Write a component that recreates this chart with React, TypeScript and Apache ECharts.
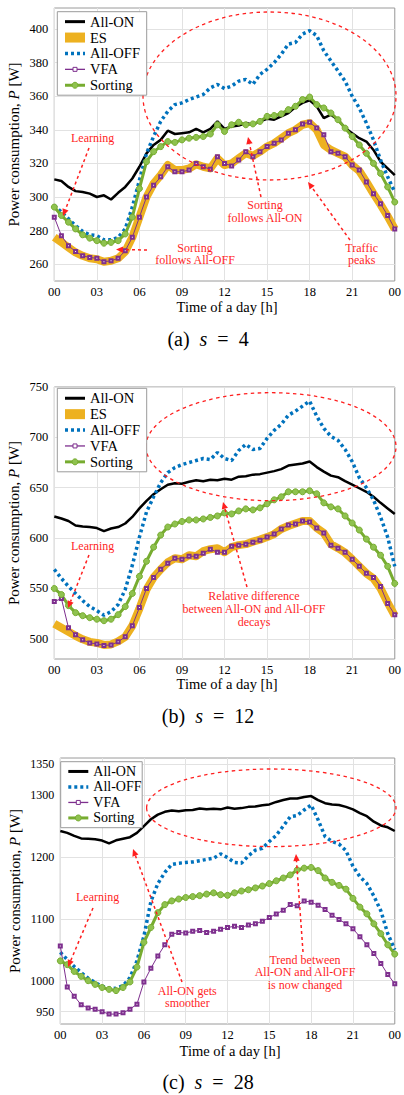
import React, { useEffect, useRef } from 'react';
import * as echarts from 'echarts';

// ---------- data ----------
const HOURS = [0, 0.5, 1, 1.5, 2, 2.5, 3, 3.5, 4, 4.5, 5, 5.5, 6, 6.5, 7, 7.5, 8, 8.5, 9, 9.5, 10, 10.5, 11, 11.5, 12, 12.5, 13, 13.5, 14, 14.5, 15, 15.5, 16, 16.5, 17, 17.5, 18, 18.5, 19, 19.5, 20, 20.5, 21, 21.5, 22, 22.5, 23, 23.5, 24];
const X_TICK_LABELS = ['00', '03', '06', '09', '12', '15', '18', '21', '00'];
const SERIES_NAMES = ['All-ON', 'ES', 'All-OFF', 'VFA', 'Sorting'];

// (a) s = 4
const ALL_ON_A = [310.5, 309.5, 306, 303.5, 303, 302, 300, 301,
  298.5, 302.5, 306, 311, 318, 326, 331, 334,
  339.5, 337.5, 338, 338.5, 340.5, 338.5, 340.5, 345,
  340.5, 342, 342.5, 344, 343, 345, 346.5, 346,
  348, 350, 353.5, 356, 357.5, 354, 347, 349,
  346, 341, 338, 335, 333, 328, 321, 317,
  313];
const ES_A = [276, 273, 270, 267, 265, 263.5, 263, 261.5,
  262, 263.5, 267.5, 276, 288, 300, 308, 313,
  319, 316, 316, 317, 319.5, 318, 317, 323,
  319, 320, 323, 326, 324.5, 327, 330, 332,
  335, 338, 340, 343, 344, 340, 331, 328,
  326, 324, 319, 315.5, 309, 302, 295.5, 288.5,
  281];
const ALL_OFF_A = [295, 291, 287, 283, 279.5, 277.5, 277, 274.5,
  274.5, 276, 281, 294, 310, 326, 336, 345,
  351, 355, 356, 358, 359.5, 361, 365, 367,
  364.5, 366, 369, 370, 367, 373, 376, 380,
  385, 391, 392, 397, 399, 396, 387, 381,
  375, 369, 360, 353, 344, 334, 322, 312,
  303];
const VFA_A = [288, 277, 271, 267.5, 265, 264, 263.5, 261.5,
  262, 263.5, 268, 276, 288, 300, 307, 312,
  318, 315, 315, 316, 320, 318, 316.5, 324,
  320, 318.5, 322, 327, 324, 327, 330, 332,
  334, 338, 340, 343.5, 344.5, 341, 337, 327,
  326, 324, 319, 316, 309, 302, 296, 289,
  281];
const SORT_A = [294, 289, 285, 281, 277.5, 275.5, 274, 272.5,
  273, 274, 278, 288, 305, 321, 327, 330,
  333, 332.5, 334, 335, 335.5, 336, 337.5, 343,
  339, 343, 344.5, 343, 343.5, 345, 348, 348.5,
  349.5, 352, 354, 358, 359.5, 355, 353, 350,
  346, 341, 336, 331, 326, 320, 314, 306,
  297];

// (b) s = 12
const ALL_ON_B = [621.5, 619.5, 617, 612.5, 611.5, 611, 610, 607,
  609.5, 611, 614.5, 621, 629.5, 637, 643.5, 648.5,
  653, 654.5, 654, 656, 657.5, 656.5, 658, 657.5,
  659, 658, 661, 661.5, 663, 663.5, 665, 666.5,
  668.5, 672, 673, 674, 676, 670.5, 666, 662,
  660.5, 656.5, 653, 649.5, 646, 641, 635, 629.5,
  624];
const ES_B = [515, 511, 507, 503, 499.5, 497, 496, 494,
  494.5, 497.5, 502, 513, 530, 549, 561, 569,
  576, 580, 579, 583, 582, 587, 589, 590,
  586, 591, 593, 594, 596.5, 598.5, 601, 604,
  609, 612, 614.5, 617, 617, 610, 605, 594,
  590, 585.5, 579, 572, 565, 560, 550, 536,
  523];
const ALL_OFF_B = [569, 560, 552, 545, 538, 532, 528, 523.5,
  527, 534, 549, 573, 601, 626, 641, 655,
  665, 670, 673, 675, 677, 679, 678, 685,
  679, 677, 687, 693, 688, 689, 699, 707,
  713, 722, 726, 731, 736, 721, 709, 701,
  697, 688, 676, 660, 650, 638, 621, 601,
  572];
const VFA_B = [537, 540, 511, 504, 499, 496, 495, 493.5,
  494, 497, 502, 513, 531, 550, 561, 569,
  575, 580, 579, 582, 582, 585, 589, 586,
  586, 592, 593, 594, 596, 598, 601, 604,
  609, 613, 614, 617, 616, 610, 605, 593,
  590, 586, 579, 572, 565, 561, 552, 535,
  524];
const SORT_B = [550, 544, 533, 526, 523, 521, 519.5, 518,
  519.5, 524, 532, 545, 562, 577, 591, 603,
  611, 614, 616.5, 618, 618, 619, 620.5, 622,
  625, 624, 627, 629, 628, 630, 634, 638,
  641, 646, 646, 646, 647, 644, 635, 631,
  629, 622, 615, 608, 599, 591, 583, 572,
  555];

// (c) s = 28
const ALL_ON_C = [1242, 1239, 1234, 1230, 1229.5, 1228.5, 1226.5, 1222,
  1227, 1229.5, 1232, 1239, 1250, 1261, 1268.5, 1273,
  1275, 1274, 1275.5, 1276, 1278.5, 1277, 1278, 1277,
  1280, 1278, 1279, 1281, 1281.5, 1283.5, 1285, 1289,
  1292, 1294.5, 1294.5, 1297, 1298.5, 1292, 1287, 1285,
  1284, 1281, 1277, 1271, 1266, 1257, 1251, 1248,
  1242];
const ALL_OFF_C = [1046, 1034, 1023, 1013, 1004, 997, 991, 988,
  987.5, 992, 1005, 1032, 1072, 1128, 1157, 1175,
  1188, 1190, 1191, 1192, 1194, 1196, 1198, 1205,
  1199, 1191, 1190, 1202, 1211, 1214, 1225, 1235,
  1250, 1265, 1267, 1276, 1284, 1260, 1233, 1225,
  1221, 1210, 1185, 1168, 1157, 1137, 1113, 1076,
  1050];
const VFA_C = [1056, 990, 975, 961, 956, 954, 950, 946,
  946, 948, 954, 962, 998, 1020, 1040, 1058,
  1075, 1078, 1077, 1080, 1081, 1078, 1080, 1083,
  1086, 1088, 1086, 1090, 1092, 1096, 1102, 1108,
  1114, 1123, 1121, 1129, 1127, 1122, 1115, 1106,
  1099, 1092, 1084, 1071, 1058, 1044, 1028, 1010,
  995];
const SORT_C = [1032, 1026, 1015, 1007, 1000, 994, 989, 986,
  984, 989, 998, 1022, 1062, 1086, 1110, 1123,
  1129, 1132, 1134.5, 1136, 1137.5, 1140, 1142, 1139,
  1138, 1142, 1145, 1147, 1150, 1153, 1157, 1161.5,
  1166, 1171, 1179, 1182, 1183, 1178, 1166, 1159,
  1154, 1148, 1133, 1119, 1108, 1092, 1076, 1058,
  1043];

const Y_TICKS_A = [260, 280, 300, 320, 340, 360, 380, 400];
const Y_TICKS_B = [500, 550, 600, 650, 700, 750];
const Y_TICKS_C = [950, 1000, 1100, 1200, 1300, 1350];

// ---------- style ----------
const SERIF = 'Liberation Serif';
const RED = '#ff1f1f';
const GRID_COLOR = '#e2e2e2';
const COLORS: Record<string, string> = {
  'All-ON': '#000000', 'ES': '#EDB120', 'All-OFF': '#0072BD', 'VFA': '#7E2F8E', 'Sorting': '#77AC30',
};

const STYLE: Record<string, any> = {
  'All-ON': { symbol: 'none', lineStyle: { color: COLORS['All-ON'], width: 2.5 }, itemStyle: { color: COLORS['All-ON'] } },
  'ES': { symbol: 'none', lineStyle: { color: COLORS['ES'], width: 8, join: 'round' }, itemStyle: { color: COLORS['ES'] } },
  'All-OFF': { symbol: 'none', lineStyle: { color: COLORS['All-OFF'], width: 3.5, type: [3, 3] }, itemStyle: { color: COLORS['All-OFF'] } },
  'VFA': { symbol: 'emptyRect', symbolSize: 3, lineStyle: { color: COLORS['VFA'], width: 1 }, itemStyle: { color: COLORS['VFA'], borderColor: COLORS['VFA'], borderWidth: 1 } },
  'Sorting': { symbol: 'circle', symbolSize: 6, lineStyle: { color: COLORS['Sorting'], width: 3 }, itemStyle: { color: '#8fc24f', borderColor: COLORS['Sorting'], borderWidth: 1 } },
};

function mkSeries(name: string, idx: number, vals: number[]) {
  return {
    type: 'line',
    name,
    xAxisIndex: idx,
    yAxisIndex: idx,
    data: HOURS.map((h, i) => [h, vals[i]]),
    silent: true,
    clip: true,
    ...STYLE[name],
  };
}

function arrow(x1: number, y1: number, x2: number, y2: number) {
  const dx = x2 - x1, dy = y2 - y1;
  const L = Math.hypot(dx, dy);
  const ux = dx / L, uy = dy / L;
  const hl = 7, hw = 3.2;
  const bx = x2 - ux * hl, by = y2 - uy * hl;
  return [
    { type: 'line', silent: true, z: 100, shape: { x1, y1, x2: bx, y2: by }, style: { stroke: RED, lineWidth: 1.5, lineDash: [3, 3] } },
    { type: 'polygon', silent: true, z: 100, shape: { points: [[x2, y2], [bx - uy * hw, by + ux * hw], [bx + uy * hw, by - ux * hw]] }, style: { fill: RED } },
  ];
}

function note(text: string, x: number, y: number, lh = 13) {
  return { type: 'text', silent: true, z: 100, x, y, style: { text, fill: RED, fontFamily: SERIF, fontSize: 12, lineHeight: lh, align: 'center', verticalAlign: 'middle' } };
}

function ellipse(cx: number, cy: number, rx: number, ry: number) {
  return { type: 'ellipse', silent: true, z: 100, shape: { cx, cy, rx, ry }, style: { fill: 'none', stroke: RED, lineWidth: 1.3, lineDash: [3.5, 3.5] } };
}

function plain(text: string, x: number, y: number, size: number, rotation = 0) {
  return {
    type: 'text', silent: true, z: 100, x, y, rotation,
    style: {
      text, fill: '#000', fontFamily: SERIF, fontSize: size, align: 'center', verticalAlign: 'middle',
      rich: { i: { fontStyle: 'italic', fontFamily: SERIF, fontSize: size, fill: '#000' } },
    },
  };
}

// hand-drawn legend box (one per panel)
function legendBox(names: string[], left: number, top: number, width: number, step: number, symX: number, fontSize: number) {
  const pad = 2;
  const height = pad * 2 + step * names.length;
  const els: any[] = [
    { type: 'rect', silent: true, z: 110, shape: { x: left, y: top, width, height }, style: { fill: '#fff', stroke: '#9a9a9a', lineWidth: 1 } },
  ];
  names.forEach((n, i) => {
    const cy = top + pad + step * (i + 0.5);
    const x1 = symX, x2 = symX + 20, xm = symX + 10;
    const c = COLORS[n];
    if (n === 'ES') {
      els.push({ type: 'rect', silent: true, z: 111, shape: { x: x1, y: cy - 5, width: 20, height: 10 }, style: { fill: c } });
    } else if (n === 'All-OFF') {
      els.push({ type: 'line', silent: true, z: 111, shape: { x1, y1: cy, x2, y2: cy }, style: { stroke: c, lineWidth: 3.5, lineDash: [3, 3] } });
    } else if (n === 'All-ON') {
      els.push({ type: 'line', silent: true, z: 111, shape: { x1, y1: cy, x2, y2: cy }, style: { stroke: c, lineWidth: 3 } });
    } else if (n === 'VFA') {
      els.push({ type: 'line', silent: true, z: 111, shape: { x1, y1: cy, x2, y2: cy }, style: { stroke: c, lineWidth: 1.3 } });
      els.push({ type: 'rect', silent: true, z: 112, shape: { x: xm - 2, y: cy - 2, width: 4, height: 4 }, style: { fill: '#fff', stroke: c, lineWidth: 1 } });
    } else {
      els.push({ type: 'line', silent: true, z: 111, shape: { x1, y1: cy, x2, y2: cy }, style: { stroke: c, lineWidth: 3 } });
      els.push({ type: 'circle', silent: true, z: 112, shape: { cx: xm, cy, r: 3 }, style: { fill: '#8fc24f', stroke: c, lineWidth: 1 } });
    }
    els.push({ type: 'text', silent: true, z: 112, x: x2 + 5, y: cy, style: { text: n, fill: '#000', fontFamily: SERIF, fontSize, align: 'left', verticalAlign: 'middle' } });
  });
  return els;
}

const GRIDS = [
  { left: 54.3, top: 8, width: 345, height: 273 },
  { left: 54.3, top: 387, width: 345, height: 272 },
  { left: 60.3, top: 758, width: 339, height: 266 },
];
const Y_RANGES = [[250, 412.5], [480, 750], [930, 1360]];
const Y_TICKS = [Y_TICKS_A, Y_TICKS_B, Y_TICKS_C];

export default function App() {
  const ref = useRef<HTMLDivElement>(null);
  useEffect(() => {
    if (!ref.current) return;
    const chart = echarts.init(ref.current, null, { renderer: 'svg' });

    const grid = GRIDS.map((g) => ({ ...g, show: true, borderColor: '#9a9a9a', borderWidth: 1, backgroundColor: 'transparent', containLabel: false }));

    const xAxis = GRIDS.map((_, i) => ({
      type: 'value', gridIndex: i, min: 0, max: 24, interval: 3,
      axisLine: { show: false }, axisTick: { show: false },
      splitLine: { show: true, lineStyle: { color: GRID_COLOR, width: 1 } },
      axisLabel: {
        margin: 4, fontFamily: SERIF, fontSize: 12.5, color: '#000',
        formatter: (v: number) => X_TICK_LABELS[Math.round(v / 3)] ?? '',
      },
    }));

    const yAxis = GRIDS.map((_, i) => ({
      type: 'value', gridIndex: i, min: Y_RANGES[i][0], max: Y_RANGES[i][1],
      axisLine: { show: false },
      axisTick: { show: false, customValues: Y_TICKS[i] },
      splitLine: { show: true, lineStyle: { color: GRID_COLOR, width: 1 } },
      axisLabel: {
        customValues: Y_TICKS[i], margin: 6, fontFamily: SERIF, fontSize: i === 2 ? 12 : 12.5, color: '#000',
        formatter: (v: number) => String(v),
      },
    }));

    const series = [
      mkSeries('All-ON', 0, ALL_ON_A), mkSeries('ES', 0, ES_A), mkSeries('All-OFF', 0, ALL_OFF_A), mkSeries('VFA', 0, VFA_A), mkSeries('Sorting', 0, SORT_A),
      mkSeries('All-ON', 1, ALL_ON_B), mkSeries('ES', 1, ES_B), mkSeries('All-OFF', 1, ALL_OFF_B), mkSeries('VFA', 1, VFA_B), mkSeries('Sorting', 1, SORT_B),
      mkSeries('All-ON', 2, ALL_ON_C), mkSeries('All-OFF', 2, ALL_OFF_C), mkSeries('VFA', 2, VFA_C), mkSeries('Sorting', 2, SORT_C),
    ];

    const Y_TITLE = 'Power consumption, {i|P} [W]';
    const graphic = [
      // legends
      ...legendBox(SERIES_NAMES, 57.3, 11.7, 89.4, 15.9, 65, 14.5),
      ...legendBox(SERIES_NAMES, 57.3, 388.3, 89.4, 15.9, 65, 14.5),
      ...legendBox(['All-ON', 'All-OFF', 'VFA', 'Sorting'], 60.7, 761.7, 81.5, 15.5, 68.3, 14),
      // axis titles and captions
      plain('Time of a day [h]', 227, 306.7, 14.5),
      plain('Time of a day [h]', 227, 684, 14.5),
      plain('Time of a day [h]', 230, 1050.7, 14.5),
      plain(Y_TITLE, 14, 144.5, 15, Math.PI / 2),
      plain(Y_TITLE, 14, 523, 15, Math.PI / 2),
      plain(Y_TITLE, 14.5, 891, 15, Math.PI / 2),
      plain('(a)  {i|s}  =  4', 208, 339, 20),
      plain('(b)  {i|s}  =  12', 208, 716, 20),
      plain('(c)  {i|s}  =  28', 208, 1082, 20),
      // (a)
      ellipse(269.5, 96, 126.5, 84),
      note('Learning', 92.7, 138.3),
      ...arrow(89, 148, 63, 216),
      note('Sorting\nfollows All-OFF', 195, 254, 12.5),
      ...arrow(147, 250, 116, 249.5),
      note('Sorting\nfollows All-ON', 265, 211.7, 12.5),
      ...arrow(261, 197, 248, 137),
      note('Traffic\npeaks', 361.7, 254, 12.5),
      ...arrow(350, 240, 308, 182),
      // (b)
      ellipse(271, 446.7, 125, 54),
      note('Learning', 92.7, 545.7),
      ...arrow(89, 555, 68, 608),
      note('Relative difference\nbetween All-ON and All-OFF\ndecays', 254, 609.3, 13),
      ...arrow(247, 587, 223, 502),
      // (c)
      ellipse(271.3, 807.8, 124.7, 38.8),
      note('Learning', 97.7, 896.7),
      ...arrow(93, 908, 68, 967),
      note('All-ON gets\nsmoother', 187.3, 996.8, 12.5),
      ...arrow(182, 982, 133, 849),
      note('Trend between\nAll-ON and All-OFF\nis now changed', 305, 972, 12.5),
      ...arrow(303, 952, 296, 854),
    ];

    chart.setOption({
      animation: false,
      backgroundColor: '#fff',
      textStyle: { fontFamily: SERIF },
      grid, xAxis, yAxis, series, graphic,
    });
    return () => chart.dispose();
  }, []);
  return <div ref={ref} style={{ position: 'fixed', left: 0, top: 0, width: 404, height: 1095, background: '#fff' }} />;
}
